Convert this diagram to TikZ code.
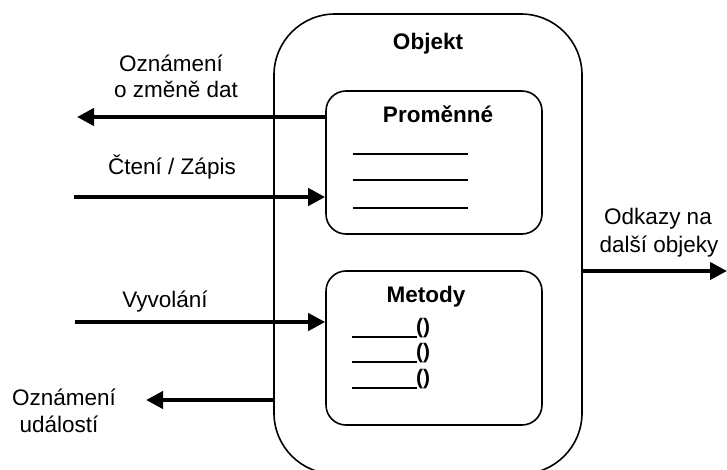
\documentclass[tikz,border=0pt]{standalone}
\usepackage{fontspec}
\setmainfont{Liberation Sans}
\usetikzlibrary{arrows.meta}
\begin{document}
\begin{tikzpicture}[x=1pt,y=-1pt,
  txt/.style={font=\fontsize{22.5}{27}\selectfont, inner sep=0pt, anchor=base},
  btxt/.style={txt, font=\fontsize{22.5}{27}\selectfont\bfseries},
  objbox/.style={draw, line width=1.6pt, rounded corners=61pt, inner sep=0pt,
    minimum width=308pt, minimum height=460pt},
  partbox/.style={draw, line width=1.6pt, rounded corners=20pt, inner sep=0pt,
    minimum width=216pt},
  slot/.style={line width=2pt},
  flow/.style={line width=4pt, -{Triangle[length=17pt,width=17pt]}}
]
\useasboundingbox (0,0) rectangle (727,470);

% the object and its two parts
\node[objbox] (obj) at (428,244) {};
\node[partbox, minimum height=143pt] (vars) at (434,162.5) {};
\node[partbox, minimum height=154pt] (meth) at (434,348) {};

\node[btxt] (objt) at (428,50) {Objekt};
\node[btxt] (varst) at (438,123) {Proměnné};
\node[btxt] (metht) at (426,302) {Metody};

% variable slots
\coordinate (v1a) at (353,154); \coordinate (v1b) at (468,154);
\coordinate (v2a) at (353,180); \coordinate (v2b) at (468,180);
\coordinate (v3a) at (353,208); \coordinate (v3b) at (468,208);
\draw[slot] (v1a) -- (v1b);
\draw[slot] (v2a) -- (v2b);
\draw[slot] (v3a) -- (v3b);

% method slots
\coordinate (m1a) at (352,337); \coordinate (m1b) at (417,337);
\coordinate (m2a) at (352,362); \coordinate (m2b) at (417,362);
\coordinate (m3a) at (352,388); \coordinate (m3b) at (417,388);
\draw[slot] (m1a) -- (m1b);
\draw[slot] (m2a) -- (m2b);
\draw[slot] (m3a) -- (m3b);
\node[btxt, anchor=base west, font=\fontsize{21}{25}\selectfont\bfseries] (p1) at (416,333) {()};
\node[btxt, anchor=base west, font=\fontsize{21}{25}\selectfont\bfseries] (p2) at (416,358) {()};
\node[btxt, anchor=base west, font=\fontsize{21}{25}\selectfont\bfseries] (p3) at (416,384) {()};

% outside ends of the messages
\coordinate (notifyEnd) at (77,117);
\coordinate (rwStart) at (74,197);
\coordinate (callStart) at (75,322);
\coordinate (eventEnd) at (146,400);
\coordinate (refEnd) at (727,271);

\draw[flow] (vars.west |- notifyEnd) -- (notifyEnd);
\draw[flow] (rwStart) -- (vars.west |- rwStart);
\draw[flow] (callStart) -- (meth.west |- callStart);
\draw[flow] (obj.west |- eventEnd) -- (eventEnd);
\draw[flow] (obj.east |- refEnd) -- (refEnd);

% message labels
\node[txt] (l1) at (171,72) {Oznámení};
\node[txt] (l2) at (176,98) {o změně dat};
\node[txt] (l3) at (172,175) {Čtení / Zápis};
\node[txt] (l4) at (165,307) {Vyvolání};
\node[txt] (l5) at (64,405) {Oznámení};
\node[txt] (l6) at (59,432) {událostí};
\node[txt] (l7) at (658,225) {Odkazy na};
\node[txt] (l8) at (659,252) {další objeky};
\end{tikzpicture}
\end{document}
